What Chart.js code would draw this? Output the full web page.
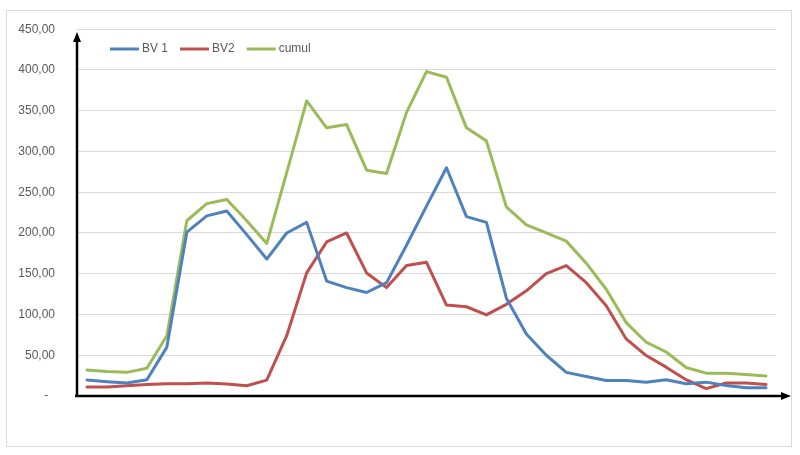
<!DOCTYPE html>
<html>
<head>
<meta charset="utf-8">
<script src="https://cdn.jsdelivr.net/npm/chart.js@4/dist/chart.umd.min.js"></script>
<style>
  html, body { margin: 0; padding: 0; background: #fff; }
  #wrap { position: relative; width: 800px; height: 455px; }
</style>
</head>
<body>
<div id="wrap"><canvas id="c" width="800" height="455"></canvas></div>
<script>
const categories = Array.from({length: 35}, (_, i) => String(i + 1));
const bv1 = [19.5, 17.5, 16, 20, 60, 201, 221, 227, 198, 168, 200, 213, 141, 133, 127, 139, 185, 233, 280, 220, 213, 120, 76, 50, 29, 24, 19, 19, 17, 20, 15, 17, 13, 10, 10];
const bv2 = [11, 11, 12.6, 14, 15, 15, 16, 14.6, 12.6, 19.5, 74, 151, 189, 200, 151, 133, 160, 164, 111.5, 109.5, 99.5, 112.5, 129, 150, 160, 139, 110.6, 70, 49.6, 35.4, 20, 9, 15.9, 15.9, 14.2];
const cumul = [32, 30, 29, 34, 74, 215, 236, 241, 215, 187, 274, 362, 329, 333, 277, 273, 348, 398, 391, 329, 313, 232, 210, 200, 190, 163, 131, 90, 66, 54, 35, 28, 28, 26.4, 24.4];
const seriesNames = ['BV 1', 'BV2', 'cumul'];
const yTicks = [0, 50, 100, 150, 200, 250, 300, 350, 400, 450];

const FONT = '"Liberation Sans", Arial, sans-serif';
const TEXT = '#595959';

const framePlugin = {
  id: 'frame',
  beforeDraw(chart) {
    const ctx = chart.ctx;
    ctx.save();
    ctx.fillStyle = '#fff';
    ctx.fillRect(0, 0, chart.width, chart.height);
    ctx.strokeStyle = '#d9d9d9';
    ctx.lineWidth = 1;
    ctx.strokeRect(6.5, 10.5, 785, 436);
    ctx.restore();
  },
  afterDatasetsDraw(chart) {
    const ctx = chart.ctx;
    const ca = chart.chartArea;
    const y0 = chart.scales.y.getPixelForValue(0);
    const xl = ca.left;
    ctx.save();
    ctx.strokeStyle = '#000';
    ctx.fillStyle = '#000';
    ctx.lineWidth = 2.5;
    // y axis
    ctx.beginPath();
    ctx.moveTo(xl, y0 + 1);
    ctx.lineTo(xl, 40);
    ctx.stroke();
    ctx.beginPath();
    ctx.moveTo(xl, 32);
    ctx.lineTo(xl - 4, 42);
    ctx.lineTo(xl + 4, 42);
    ctx.closePath();
    ctx.fill();
    // x axis
    ctx.beginPath();
    ctx.moveTo(xl - 2, y0);
    ctx.lineTo(783, y0);
    ctx.stroke();
    ctx.beginPath();
    ctx.moveTo(791, y0);
    ctx.lineTo(781, y0 - 4);
    ctx.lineTo(781, y0 + 4);
    ctx.closePath();
    ctx.fill();
    // legend
    ctx.font = '12px ' + FONT;
    ctx.textBaseline = 'middle';
    let x = 110;
    const ly = 49;
    chart.data.datasets.forEach(ds => {
      ctx.strokeStyle = ds.borderColor;
      ctx.lineWidth = 3;
      ctx.beginPath();
      ctx.moveTo(x, ly);
      ctx.lineTo(x + 29, ly);
      ctx.stroke();
      x += 32;
      ctx.fillStyle = TEXT;
      ctx.fillText(ds.label, x, ly);
      x += ctx.measureText(ds.label).width + 12;
    });
    ctx.restore();
  }
};

new Chart(document.getElementById('c'), {
  type: 'line',
  data: {
    labels: categories,
    datasets: [
      { label: seriesNames[0], data: bv1, borderColor: '#4f81bd', backgroundColor: '#4f81bd' },
      { label: seriesNames[1], data: bv2, borderColor: '#c0504d', backgroundColor: '#c0504d' },
      { label: seriesNames[2], data: cumul, borderColor: '#9bbb59', backgroundColor: '#9bbb59' }
    ]
  },
  options: {
    responsive: false,
    animation: false,
    devicePixelRatio: 1,
    layout: { padding: { left: 0, right: 24, top: 26, bottom: 59 } },
    elements: {
      line: { borderWidth: 3, tension: 0, borderJoinStyle: 'round', borderCapStyle: 'round' },
      point: { radius: 0, hoverRadius: 0 }
    },
    plugins: {
      legend: { display: false },
      tooltip: { enabled: false }
    },
    scales: {
      x: {
        type: 'category',
        display: false,
        offset: true
      },
      y: {
        min: 0,
        max: 450,
        afterFit(scale) { scale.width = 77; },
        afterBuildTicks(scale) { scale.ticks = yTicks.map(v => ({ value: v })); },
        border: { display: false },
        grid: { color: '#d9d9d9', lineWidth: 1, drawTicks: false },
        ticks: {
          padding: 22,
          color: TEXT,
          font: { family: FONT, size: 12 },
          callback: v => v === 0 ? '-\u00a0\u00a0' : v.toFixed(2).replace('.', ',')
        }
      }
    }
  },
  plugins: [framePlugin]
});
</script>
</body>
</html>
